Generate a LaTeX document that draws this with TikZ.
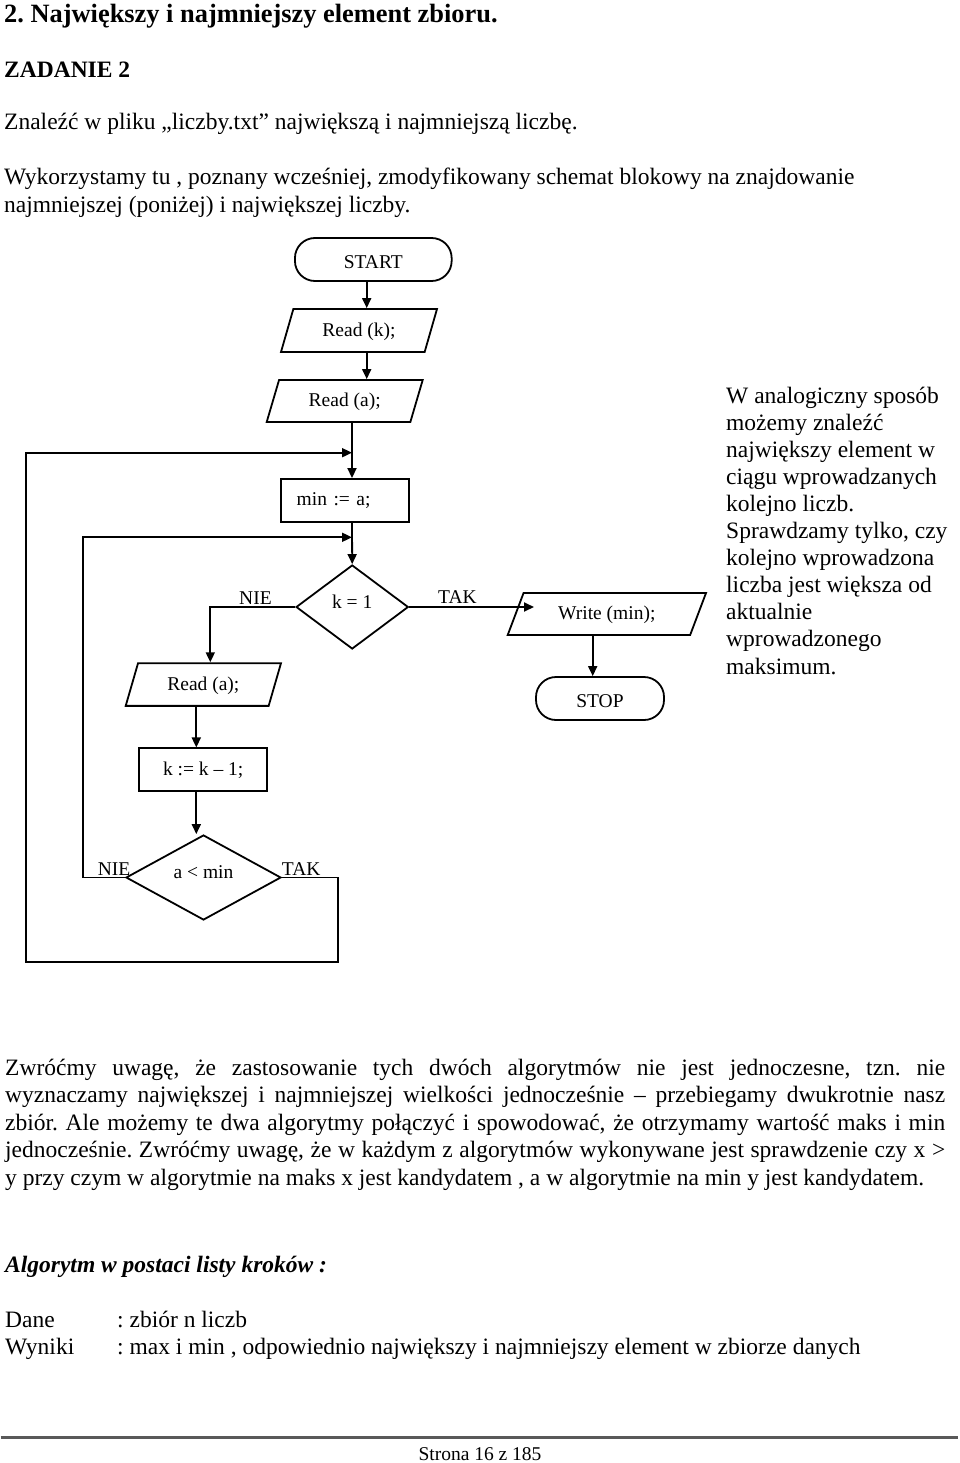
\documentclass[tikz,border=0pt]{standalone}
\usepackage{fontspec}
\setmainfont{Liberation Serif}
\usetikzlibrary{shapes.geometric,arrows.meta}
\begin{document}
\frenchspacing
\begin{tikzpicture}[x=1pt,y=-1pt,
  chart/.style={font=\fontsize{19.5}{23}\selectfont},
  body/.style={anchor=base west,inner sep=0pt,font=\fontsize{23.5}{27}\selectfont},
  conn/.style={line width=1.8pt},
  arr/.style={conn,-{Triangle[length=10pt,width=9pt]}},
  term/.style={chart,draw,line width=1.8pt,rectangle,rounded corners=20pt,minimum height=43pt,inner sep=0pt,text height=17pt,text depth=0pt},
  proc/.style={chart,draw,line width=1.8pt,rectangle,inner sep=0pt,text height=14pt,text depth=3pt},
  io/.style={chart,draw,line width=1.8pt,trapezium,trapezium left angle=54,trapezium right angle=126,trapezium stretches body,inner sep=0pt,text height=14pt,text depth=3pt},
  dec/.style={chart,draw,line width=1.8pt,diamond,inner sep=0pt,text height=9pt,text depth=7pt},
  lab/.style={chart,anchor=base west,inner sep=0pt}
]
\useasboundingbox (0,0) rectangle (960,1463);
\fill[white] (0,0) rectangle (960,1463);

% header texts
\node[body,font=\fontsize{26.4}{30}\selectfont\bfseries] (title) at (4,22.7) {2. Największy i najmniejszy element zbioru.};
\node[body,font=\fontsize{23.5}{27}\selectfont\bfseries] (zad) at (4,77.5) {ZADANIE 2};
\node[body] (zn) at (4,130) {Znaleźć w pliku „liczby.txt” największą i najmniejszą liczbę.};
\node[body] (wy1) at (4,185) {Wykorzystamy tu , poznany wcześniej, zmodyfikowany schemat blokowy na znajdowanie};
\node[body] (wy2) at (4,213) {najmniejszej (poniżej) i największej liczby.};

% flowchart shapes
\node[term,minimum width=156.7pt] (start) at (373.3,259.5) {START};
\node[io,minimum width=156pt,minimum height=43pt] (readk) at (359,330.5) {Read (k);};
\node[io,minimum width=156pt,minimum height=42pt] (reada) at (344.7,401) {Read (a);};
\node[proc,minimum width=128pt,minimum height=42.7pt,text width=96.6pt,align=left,inner xsep=15.7pt] (mina) at (345,500.3) {min := a;};
\node[dec,minimum width=112.3pt,minimum height=84pt] (k1) at (352.2,607) {k = 1};
\node[io,trapezium left angle=47,trapezium right angle=133,minimum width=198.3pt,minimum height=42pt] (write) at (606.85,614) {Write (min);};
\node[term,minimum width=128pt] (stop) at (600,698.5) {STOP};
\node[io,minimum width=155.3pt,minimum height=42.7pt] (readb) at (203.35,684.5) {Read (a);};
\node[proc,minimum width=128.3pt,minimum height=42.7pt] (kdec) at (203.2,769.7) {k := k – 1;};
\node[dec,minimum width=155pt,minimum height=85pt] (amin) at (203.5,877.5) {a < min};

% labels
\node[lab] (nie1) at (239,604) {NIE};
\node[lab] (tak1) at (438,603) {TAK};
\node[lab] (nie2) at (97.7,875) {NIE};
\node[lab] (tak2) at (281.7,875) {TAK};

% helper coordinates
\coordinate (xs) at (366.7,0);
\coordinate (xa) at (352,0);
\coordinate (xb) at (210.3,0);
\coordinate (xd) at (196.3,0);
\coordinate (xw) at (592.7,0);
\coordinate (j1) at (352,452.7);
\coordinate (j2) at (352,537.3);
\coordinate (wt) at (534,607);
\coordinate (iL) at (82.7,877.5);
\coordinate (oR) at (338.3,962.3);
\coordinate (oL) at (25.7,962.3);

% connectors
\draw[arr] (start.south -| xs) -- (readk.north -| xs);
\draw[arr] (readk.south -| xs) -- (reada.north -| xs);
\draw[arr] (reada.south -| xa) -- (mina.north -| xa);
\draw[arr] (mina.south -| xa) -- (k1.north);
\draw[arr] (k1.west) -| (readb.north -| xb);
\draw[arr] (readb.south -| xd) -- (kdec.north -| xd);
\draw[arr] (kdec.south -| xd) -- (amin.north -| xd);
\draw[arr] (k1.east) -- (wt);
\draw[arr] (write.south -| xw) -- (stop.north -| xw);
\draw[arr] (amin.west) -- (iL) |- (j2);
\draw[arr] (amin.east) -| (oR) -- (oL) |- (j1);

% side text
\foreach \t [count=\i from 0] in {W analogiczny sposób,możemy znaleźć,największy element w,ciągu wprowadzanych,kolejno liczb.,{Sprawdzamy tylko, czy},kolejno wprowadzona,liczba jest większa od,aktualnie,wprowadzonego,maksimum.}{
  \node[body] (side\i) at (726,403+27.1*\i) {\t};
}

% paragraph
\node[body] (p1) at (5,1075) {\makebox[940pt][s]{Zwróćmy uwagę, że zastosowanie tych dwóch algorytmów nie jest jednoczesne, tzn. nie}};
\node[body] (p2) at (5,1102.5) {\makebox[940pt][s]{wyznaczamy największej i najmniejszej wielkości jednocześnie – przebiegamy dwukrotnie nasz}};
\node[body] (p3) at (5,1130) {\makebox[940pt][s]{zbiór. Ale możemy te dwa algorytmy połączyć i spowodować, że otrzymamy wartość maks i min}};
\node[body] (p4) at (5,1157.5) {\makebox[940pt][s]{jednocześnie. Zwróćmy uwagę, że w każdym z algorytmów wykonywane jest sprawdzenie czy x >}};
\node[body] (p5) at (5,1185) {y przy czym w algorytmie na maks x jest kandydatem , a w algorytmie na min y jest kandydatem.};

\node[body,font=\fontsize{23.5}{27}\selectfont\bfseries\itshape] (alg) at (5,1272) {Algorytm w postaci listy kroków :};
\node[body] (dane) at (5,1327) {Dane};
\node[body] (danev) at (117,1327) {: zbiór n liczb};
\node[body] (wyn) at (5,1354) {Wyniki};
\node[body] (wynv) at (117,1354) {: max i min , odpowiednio największy i najmniejszy element w zbiorze danych};

% footer
\draw[black!65,line width=2.4pt] (0.5,1437.5) -- (958,1437.5);
\node[chart,anchor=base,inner sep=0pt] (page) at (480,1460) {Strona 16 z 185};
\end{tikzpicture}
\end{document}
